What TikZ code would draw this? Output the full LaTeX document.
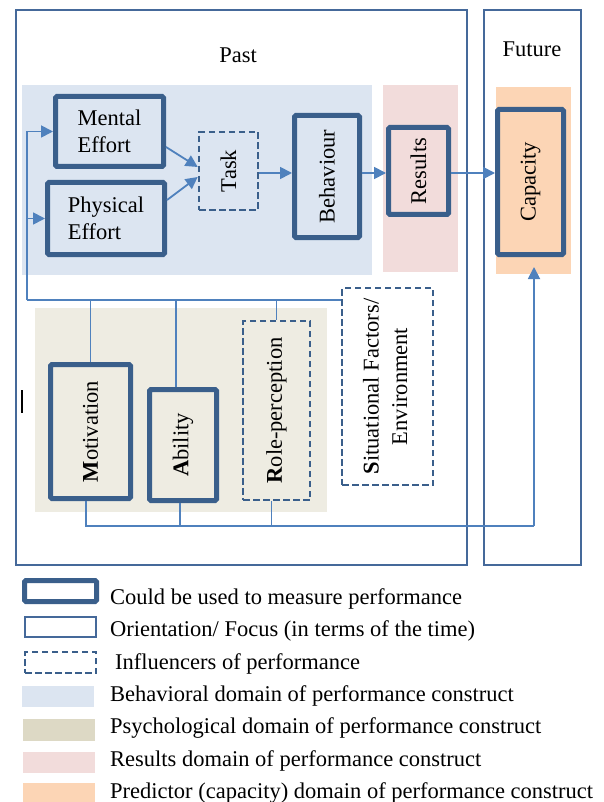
\documentclass[tikz,border=0pt]{standalone}
\usepackage{fontspec}
\setmainfont{Liberation Serif}
\usetikzlibrary{arrows.meta}
\definecolor{boxblue}{HTML}{3A5F8B}
\definecolor{lineblue}{HTML}{4F81BD}
\definecolor{frameblue}{HTML}{45699A}
\definecolor{behfill}{HTML}{DCE5F1}
\definecolor{psyfill}{HTML}{EEECE2}
\definecolor{psyleg}{HTML}{DDD9C5}
\definecolor{resfill}{HTML}{F2DCDB}
\definecolor{capfill}{HTML}{FCD5B5}
\begin{document}
\begin{tikzpicture}[x=1pt,y=-1pt,
  every node/.style={font=\fontsize{22.5}{27}\selectfont, inner sep=0pt},
  thickbox/.style={draw=boxblue, line width=5pt, rounded corners=1.5pt},
  dashbox/.style={draw=boxblue, line width=2.6pt, dash pattern=on 6.5pt off 3.5pt},
  framebox/.style={draw=frameblue, line width=1.8pt},
  domfill/.style={draw=none},
  conn/.style={draw=lineblue, line width=1.8pt},
  arr/.style={conn, -{Triangle[length=12pt,width=12pt]}},
  legtext/.style={anchor=base west}
]
\useasboundingbox (0,0) rectangle (603,802);
\fill[white] (0,0) rectangle (603,802);

% domains
\node[domfill, fill=behfill, minimum width=350pt, minimum height=190pt] (behdom) at (197,180) {};
\node[domfill, fill=resfill, minimum width=75pt, minimum height=187pt] (resdom) at (420.5,178.5) {};
\node[domfill, fill=capfill, minimum width=75pt, minimum height=187pt] (capdom) at (533.5,180.5) {};
\node[domfill, fill=psyfill, minimum width=292pt, minimum height=204pt] (psydom) at (181,410) {};

% frames
\node[framebox, minimum width=451.5pt, minimum height=555.5pt] (past) at (241.5,287.5) {};
\node[framebox, minimum width=97.5pt, minimum height=555.5pt] (future) at (532.5,287.5) {};
\node (pastlbl) at (238,55) {Past};
\node (futlbl) at (532,49) {Future};

% boxes
\node[thickbox, minimum width=108pt, minimum height=70pt, align=left] (mental) at (109.5,131.5) {Mental\\Effort};
\node[thickbox, minimum width=117pt, minimum height=72pt, align=left] (phys) at (106,218.5) {Physical\\Effort};
\node[dashbox, minimum width=59pt, minimum height=78pt] (task) at (228.5,171) {\rotatebox{90}{Task}};
\node[thickbox, minimum width=65pt, minimum height=122pt] (beh) at (327,176.5) {\rotatebox{90}{Behaviour}};
\node[thickbox, minimum width=60pt, minimum height=87pt] (res) at (418.5,171) {\rotatebox{90}{Results}};
\node[thickbox, minimum width=66pt, minimum height=145pt, fill=capfill] (cap) at (530.5,182) {\rotatebox{90}{Capacity}};
\node[thickbox, minimum width=80pt, minimum height=134pt] (mot) at (90.5,431.5) {\rotatebox{90}{\textbf{M}otivation}};
\node[thickbox, minimum width=67pt, minimum height=111pt] (abi) at (183,445) {\rotatebox{90}{\textbf{A}bility}};
\node[dashbox, minimum width=67pt, minimum height=179pt] (role) at (276.5,410.5) {\rotatebox{90}{\textbf{R}ole-perception}};
\node[dashbox, minimum width=91pt, minimum height=197pt, fill=white] (sit) at (387.5,386.5)
  {\rotatebox{90}{\begin{tabular}{@{}c@{}}\textbf{S}ituational Factors/\\[1.5pt]Environment\end{tabular}}};

% main flow
\coordinate (row) at (0,173);
\draw[arr] ([shift={(0,15.5)}]mental.east) -- ([shift={(0,-4)}]task.west);
\draw[arr] ([shift={(0,-18.5)}]phys.east) -- ([shift={(0,6)}]task.west);
\draw[arr] (task.east |- row) -- (beh.west |- row);
\draw[arr] (beh.east |- row) -- (res.west |- row);
\draw[arr] (res.east |- row) -- (cap.west |- row);

% feedback loop
\coordinate (fbL) at (27,300);
\draw[conn] (fbL) -- (fbL -| sit.west);
\draw[arr] (fbL) |- (mental.west);
\draw[arr] (fbL |- phys.west) -- (phys.west);
\draw[conn] (mot.north) -- (mot.north |- fbL);
\coordinate (an) at ([xshift=-7pt]abi.north);
\draw[conn] (an) -- (an |- fbL);
\draw[conn] (role.north) -- (role.north |- fbL);

% bottom line to capacity
\coordinate (bR) at (534,526);
\coordinate (ms) at ([xshift=-4.5pt]mot.south);
\coordinate (as) at ([xshift=-3pt]abi.south);
\coordinate (rs) at ([xshift=-5pt]role.south);
\coordinate (capIn) at ([yshift=-10pt]cap.south);
\draw[conn] (ms) |- (bR);
\draw[conn] (as) -- (as |- bR);
\draw[conn] (rs) -- (rs |- bR);
\draw[arr] (bR) -- (bR |- capIn);

% stray mark
\draw[black, line width=1.3pt] (22,390) -- (22,413);

% legend
\node[thickbox, minimum width=72pt, minimum height=21pt] (l1) at (60.5,591) {};
\node[framebox, minimum width=71pt, minimum height=20pt] (l2) at (60.5,627) {};
\node[dashbox, minimum width=71pt, minimum height=21pt] (l3) at (60.5,662.5) {};
\node[domfill, fill=behfill, minimum width=72pt, minimum height=21pt] (l4) at (58,696.5) {};
\node[domfill, fill=psyleg, minimum width=72pt, minimum height=22pt] (l5) at (59,730) {};
\node[domfill, fill=resfill, minimum width=72pt, minimum height=21pt] (l6) at (59,762.5) {};
\node[domfill, fill=capfill, minimum width=72pt, minimum height=22pt] (l7) at (59,794) {};
\node[legtext] (t1) at (110,604) {Could be used to measure performance};
\node[legtext] (t2) at (110,636) {Orientation/ Focus (in terms of the time)};
\node[legtext] (t3) at (115,669) {Influencers of performance};
\node[legtext] (t4) at (110,701) {Behavioral domain of performance construct};
\node[legtext] (t5) at (110,733) {Psychological domain of performance construct};
\node[legtext] (t6) at (110,766) {Results domain of performance construct};
\node[legtext] (t7) at (110,798) {Predictor (capacity) domain of performance construct};
\end{tikzpicture}
\end{document}
